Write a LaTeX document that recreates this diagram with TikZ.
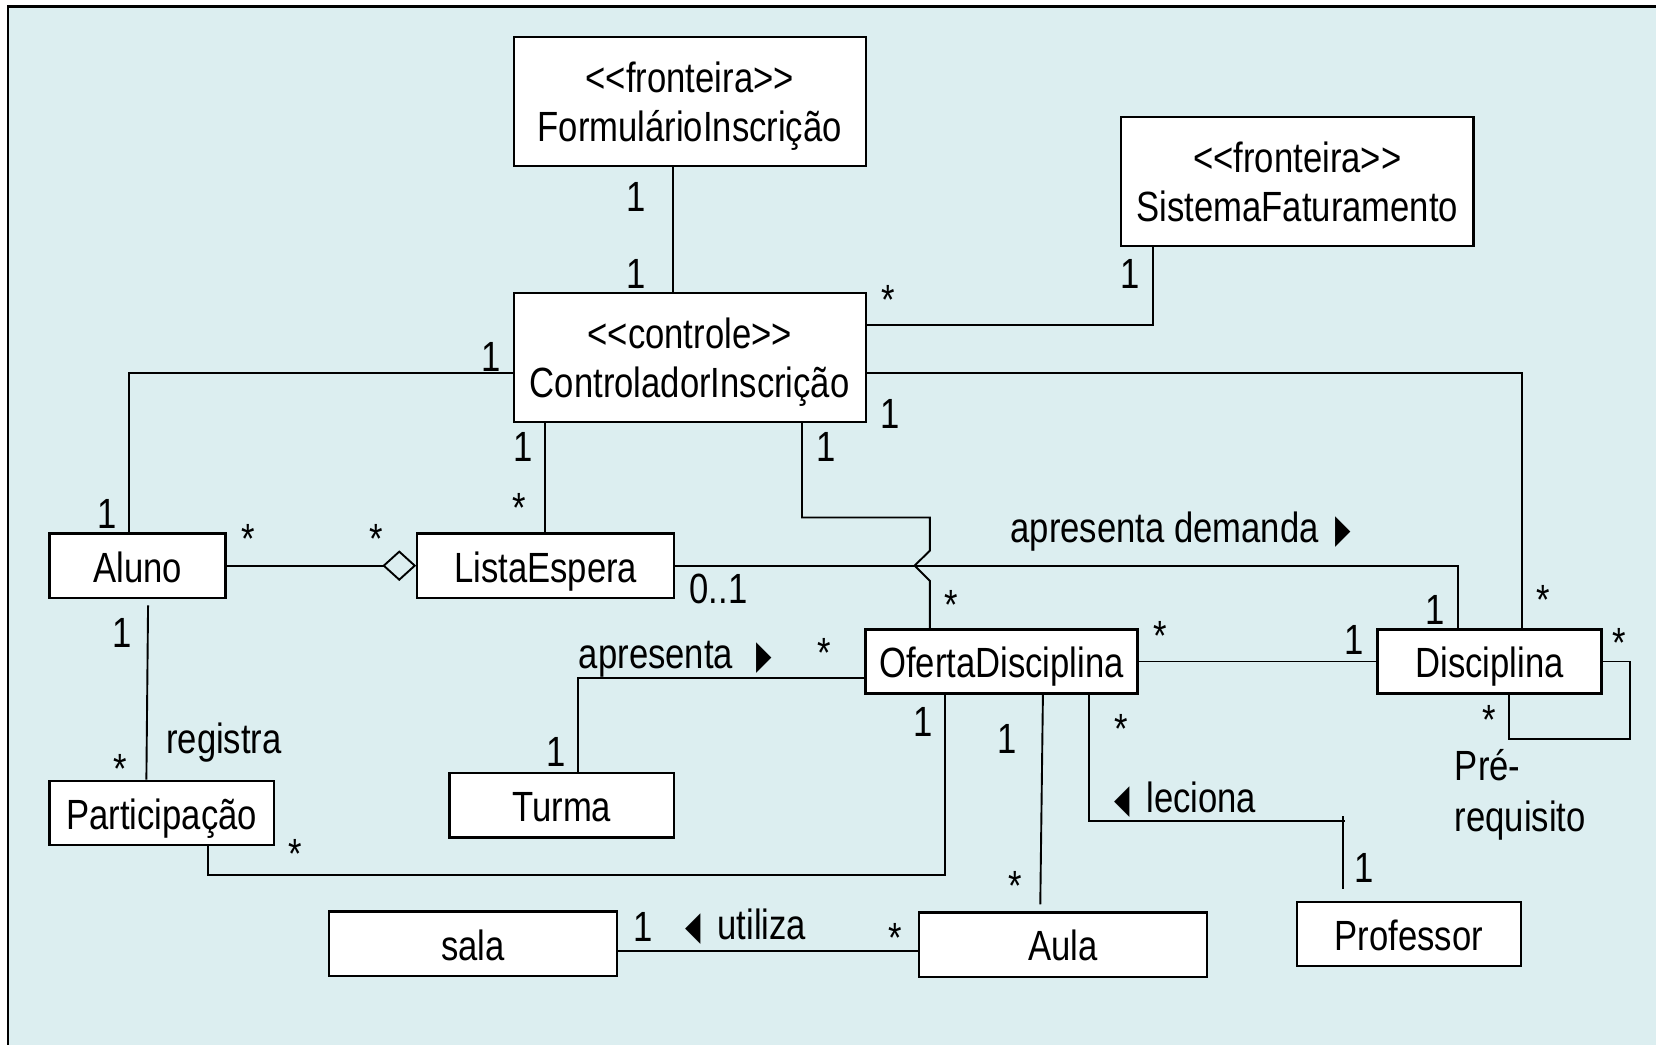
\documentclass[tikz,border=0pt]{standalone}
\usepackage{fontspec}
\setmainfont{Liberation Sans}[FakeStretch=0.82]
\newfontfamily\symfont{DejaVu Sans}[FakeStretch=0.5]
\usetikzlibrary{arrows.meta}
\definecolor{fundo}{RGB}{220,238,240}
\newcommand\dirR{{\symfont\fontsize{19}{20}\selectfont ▶}}
\newcommand\dirL{{\symfont\fontsize{19}{20}\selectfont ◀}}

\begin{document}
\begin{tikzpicture}[x=0.5pt,y=-0.5pt,line width=0.9pt,
  every node/.style={font=\fontsize{20}{23}\selectfont},
  classe/.style={draw,fill=white,line width=1.1pt,inner sep=0pt,
    text height=15.5pt,text depth=0pt,minimum height=30.4pt},
  estereo/.style={draw,fill=white,line width=1.1pt,inner sep=0pt,align=center,
    text depth=0pt,minimum width=166.6pt,minimum height=60.8pt},
  mult/.style={anchor=base,inner sep=0pt},
  rot/.style={anchor=base west,inner sep=0pt}]
  \useasboundingbox (0,0) rectangle (1568,989);
  \draw[fill=fundo,line width=1.2pt] (7.6,6.3) rectangle (1600,1020);

  % classes
  \node[estereo] (form) at (653.1,96.1) {<{}<fronteira>{}>\\FormulárioInscrição};
  \node[estereo,minimum width=166.9pt] (sist) at (1228.4,171.9) {<{}<fronteira>{}>\\SistemaFaturamento};
  \node[estereo] (ctrl) at (653.1,338.5) {<{}<controle>{}>\\ControladorInscrição};
  \node[classe,minimum width=83.4pt] (aluno) at (130.2,535.6) {Aluno};
  \node[classe,minimum width=121.55pt] (lista) at (516.7,535.6) {ListaEspera};
  \node[classe,minimum width=128.7pt] (oferta) at (948.2,626.3) {OfertaDisciplina};
  \node[classe,minimum width=105.95pt] (disc) at (1410.3,626.3) {Disciplina};
  \node[classe,minimum width=106.25pt] (part) at (153.1,769.8) {Participação};
  \node[classe,minimum width=106.3pt] (turma) at (531.9,762.6) {Turma};
  \node[classe,minimum width=136.4pt] (sala) at (447.9,893.6) {sala};
  \node[classe,minimum width=136.2pt] (aula) at (1006.4,894.4) {Aula};
  \node[classe,minimum width=106.25pt] (prof) at (1334,884.4) {Professor};

  % associacoes
  \draw (form.south -| 637.6,0) -- (ctrl.north -| 637.6,0);
  \draw (ctrl.east |- 0,307.7) -| (sist.south -| 1092,0);
  \draw (ctrl.west |- 0,353.5) -| (aluno.north -| 122.3,0);
  \draw (ctrl.east |- 0,353.5) -| (disc.north -| 1440.8,0);
  \draw (ctrl.south -| 516,0) -- (lista.north -| 516,0);
  \draw (ctrl.south -| 759.4,0) |- (880.5,490) -- (880.5,521.4) -- (866,535.5)
    -- (880.5,550) -- (oferta.north -| 880.5,0);
  \draw[-{Diamond[open,length=16pt,width=14.5pt]}] (aluno) -- (lista);
  \draw (lista.east) -| (disc.north -| 1380.3,0);
  \path (oferta) edge (disc);
  \draw (disc.east) -- (1543,626.3) |- (1428.4,700) -- (disc.south -| 1428.4,0);
  \draw (turma.north -| 547.3,0) |- (oferta.west |- 0,641.7);
  \draw ([yshift=-3pt]aluno.south -| 140.2,0) -- (part.north -| 138.6,0);
  \draw (part.south -| 196.8,0) |- (894.4,828.5) -- (oferta.south -| 894.4,0);
  \draw (oferta.south -| 987.5,0) -- ([yshift=3.3pt]aula.north -| 985,0);
  \coordinate (cruz) at (1271.8,772.9);
  \draw (oferta.south -| 1031.4,0) |- ([xshift=1pt]cruz |- 0,777.6);
  \draw (cruz) -- ([yshift=5.5pt]prof.north -| cruz);
  \draw (sala.east |- 0,900.5) -- (aula.west |- 0,900.5);

  % nomes das associacoes
  \node[rot] (tdem) at (956,514) {apresenta demanda\hspace{8pt}\dirR};
  \node[rot] (tapr) at (547.3,632.7) {apresenta\hspace{11pt}\dirR};
  \node[rot] (treg) at (156.5,713.6) {registra};
  \node[rot] (tlec) at (1054,769) {\dirL\hspace{8pt}leciona};
  \node[rot] (tuti) at (648,889.7) {\dirL\hspace{8pt}utiliza};
  \node[rot] (tpre) at (1376.7,738.7) {Pré-};
  \node[rot] (treq) at (1376.7,787.2) {requisito};
  \node[rot] (t01) at (652,571.6) {0..1};

  % multiplicidades
  \node[mult] (m1) at (602,200.5) {1};
  \node[mult] (m2) at (602,273) {1};
  \node[mult] (m3) at (1070,273) {1};
  \node[mult] (m4) at (465,352) {1};
  \node[mult] (m5) at (843,405.7) {1};
  \node[mult] (m6) at (495,437) {1};
  \node[mult] (m7) at (782,437) {1};
  \node[mult] (m8) at (101,500) {1};
  \node[mult] (m9) at (115.2,613) {1};
  \node[mult] (m10) at (1358.6,591.3) {1};
  \node[mult] (m11) at (1282,620) {1};
  \node[mult] (m12) at (873.8,697.3) {1};
  \node[mult] (m13) at (954,713.5) {1};
  \node[mult] (m14) at (526.2,726) {1};
  \node[mult] (m15) at (1291.5,835.7) {1};
  \node[mult] (m16) at (608.8,891.3) {1};
  \node[mult] (s1) at (841.4,298) {*};
  \node[mult] (s2) at (492,495) {*};
  \node[mult] (s3) at (234.8,524) {*};
  \node[mult] (s4) at (356,524) {*};
  \node[mult] (s5) at (901,587) {*};
  \node[mult] (s6) at (1461.5,581.5) {*};
  \node[mult] (s7) at (1098.7,615.5) {*};
  \node[mult] (s8) at (1532.8,623) {*};
  \node[mult] (s9) at (780.8,632) {*};
  \node[mult] (s10) at (1409.8,695) {*};
  \node[mult] (s11) at (1061.5,704) {*};
  \node[mult] (s12) at (114.2,741.5) {*};
  \node[mult] (s13) at (280,822.5) {*};
  \node[mult] (s14) at (961.7,853) {*};
  \node[mult] (s15) at (848,901.5) {*};
\end{tikzpicture}
\end{document}
